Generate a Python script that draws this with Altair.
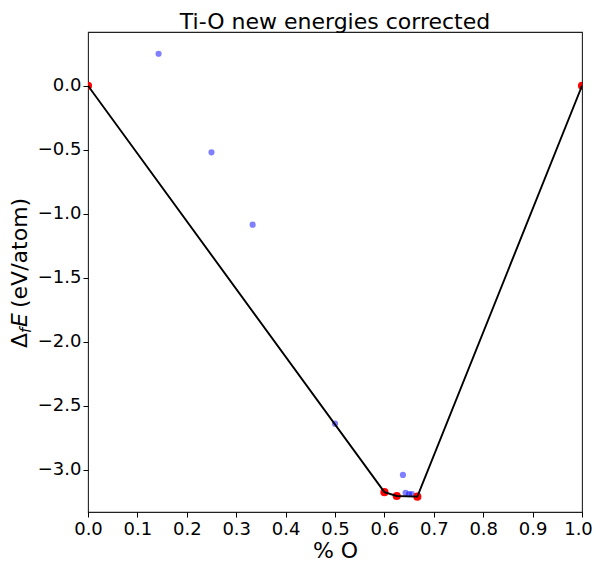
import altair as alt
import pandas as pd

# other (above hull) compositions
other_x = [0.1429, 0.25, 0.3333, 0.5, 0.6375, 0.6429, 0.65, 0.6557]
other_e = [0.25, -0.52, -1.085, -2.64, -3.04, -3.18, -3.19, -3.19]

# hull (stable) compositions
hull_x = [0.0, 0.6, 0.625, 0.6667, 1.0]
hull_e = [0.0, -3.175, -3.205, -3.21, 0.0]

title_text = "Ti-O new energies corrected"
x_title = "% O"

FONT = "DejaVu Sans"

df_other = pd.DataFrame({"x": other_x, "e": other_e})
df_hull = pd.DataFrame({"x": hull_x, "e": hull_e, "o": list(range(len(hull_x)))})

W, H = 494, 480

xscale = alt.Scale(domain=[0, 1], nice=False, zero=False)
yscale = alt.Scale(domain=[-3.33, 0.42], nice=False, zero=False)

xaxis = alt.Axis(
    values=[i / 10 for i in range(11)],
    format=".1f",
    title=x_title,
    titleFont=FONT, titleFontSize=22, titleFontWeight="normal", titleColor="black",
    titleBaseline="alphabetic", titleY=45,
    labelFont=FONT, labelFontSize=18, labelColor="black", labelPadding=3,
    labelOffset={"condition": {"test": "datum.value == 1", "value": -4}, "value": 0},
    tickColor="black", tickSize=5, domain=False, grid=False,
    labelFlush=False, labelOverlap=False,
)
yaxis = alt.Axis(
    values=[0, -0.5, -1.0, -1.5, -2.0, -2.5, -3.0],
    labelExpr="replace(format(datum.value, '.1f'), '-', '\u2212')",
    title=None,
    labelFont=FONT, labelFontSize=18, labelColor="black", labelPadding=2,
    tickColor="black", tickSize=5, domain=False, grid=False,
    labelFlush=False, labelOverlap=False,
)

base_x = alt.X("x:Q", scale=xscale, axis=xaxis)
base_y = alt.Y("e:Q", scale=yscale, axis=yaxis)

blue = alt.Chart(df_other).mark_circle(size=38, color="#0000ff", opacity=0.5, clip=True).encode(
    x=base_x, y=base_y
)
red = alt.Chart(df_hull).mark_circle(size=66, color="#ff0000", opacity=1, clip=True).encode(
    x=alt.X("x:Q", scale=xscale), y=alt.Y("e:Q", scale=yscale)
)
line = alt.Chart(df_hull).mark_line(color="black", strokeWidth=1.9, clip=True).encode(
    x=alt.X("x:Q", scale=xscale), y=alt.Y("e:Q", scale=yscale), order="o:Q"
)

# y-axis title pieces (Δ_f E (eV/atom)), rotated
pieces = [
    {"t": "\u0394", "size": 22, "style": "normal", "px": -68, "py": 316},
    {"t": "f", "size": 15, "style": "italic", "px": -62, "py": 301},
    {"t": "E", "size": 22, "style": "italic", "px": -68, "py": 295},
    {"t": "(eV/atom)", "size": 22, "style": "normal", "px": -68, "py": 276},
]
ytitle_layers = []
for p in pieces:
    ytitle_layers.append(
        alt.Chart(pd.DataFrame({"t": [p["t"]]})).mark_text(
            angle=270, align="left", baseline="middle", font=FONT,
            fontSize=p["size"], fontStyle=p["style"], color="black",
        ).encode(x=alt.value(p["px"]), y=alt.value(p["py"]), text="t:N")
    )

chart = alt.layer(blue, red, line, *ytitle_layers).properties(
    width=W, height=H,
    title=alt.TitleParams(title_text, font=FONT, fontSize=22, fontWeight="normal",
                          color="black", offset=5, dy=7, anchor="middle"),
    autosize=alt.AutoSizeParams(type="none"),
    padding={"left": 80, "top": 24, "right": 10, "bottom": 49},
).configure(
    background="white",
    view=alt.ViewConfig(stroke="#222222", strokeWidth=1.1),
)

chart.save("out.html", embed_options={"renderer": "svg", "actions": False})
